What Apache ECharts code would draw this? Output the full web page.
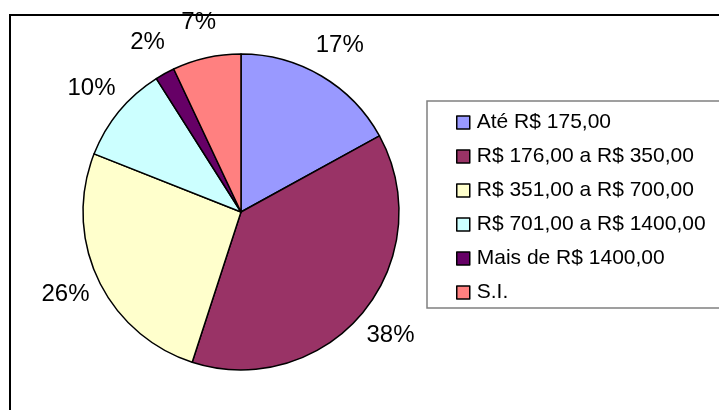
<!DOCTYPE html>
<html>
<head>
<meta charset="utf-8">
<script src="https://cdn.jsdelivr.net/npm/echarts@6/dist/echarts.min.js"></script>
<style>
  html, body { margin: 0; padding: 0; background: #fff; }
  #chart { width: 719px; height: 410px; }
</style>
</head>
<body>
<div id="chart"></div>
<script>
const categories = [
  "Até R$ 175,00",
  "R$ 176,00 a R$ 350,00",
  "R$ 351,00 a R$ 700,00",
  "R$ 701,00 a R$ 1400,00",
  "Mais de R$ 1400,00",
  "S.I."
];
const shares = [17, 38, 26, 10, 2, 7];
const colors = ["#9999ff", "#993366", "#ffffcc", "#ccffff", "#660066", "#ff8080"];

const center = [241, 212];
const radius = 158;
const labelRadius = 194;
const total = shares.reduce((a, b) => a + b, 0);

// angle (clockwise from 12 o'clock) at the middle of slice i
function midAngle(i) {
  let before = 0;
  for (let k = 0; k < i; k++) before += shares[k];
  return (before + shares[i] / 2) / total * 2 * Math.PI;
}

const chart = echarts.init(document.getElementById("chart"));

chart.setOption({
  backgroundColor: "#fff",
  animation: false,
  color: colors,
  textStyle: { fontFamily: "Liberation Sans, Arial, sans-serif" },
  graphic: [
    {
      type: "rect",
      shape: { x: 10, y: 15, width: 800, height: 500 },
      style: { fill: "none", stroke: "#000", lineWidth: 2 }
    },
    {
      type: "rect",
      shape: { x: 427, y: 101, width: 400, height: 207 },
      style: { fill: "#fff", stroke: "#808080", lineWidth: 1.5 },
      z: 0
    }
  ],
  legend: {
    orient: "vertical",
    left: 451,
    top: 107,
    itemWidth: 13,
    itemHeight: 13,
    itemGap: 13,
    icon: "rect",
    selectedMode: false,
    itemStyle: { borderColor: "#000", borderWidth: 1.5 },
    textStyle: {
      color: "#000",
      fontSize: 21,
      lineHeight: 21,
      fontFamily: "Liberation Sans, Arial, sans-serif",
      padding: [0, 0, 0, 2]
    },
    data: categories,
    z: 5
  },
  series: [
    {
      type: "pie",
      center: center,
      radius: radius,
      startAngle: 90,
      clockwise: true,
      avoidLabelOverlap: false,
      itemStyle: { borderColor: "#000", borderWidth: 1.5 },
      label: {
        show: true,
        position: "outside",
        color: "#000",
        fontSize: 24,
        fontFamily: "Liberation Sans, Arial, sans-serif",
        formatter: (p) => p.value + "%"
      },
      labelLine: { show: false },
      labelLayout: (params) => {
        const a = midAngle(params.dataIndex);
        return {
          x: center[0] + labelRadius * Math.sin(a),
          y: center[1] - labelRadius * Math.cos(a),
          align: "center",
          verticalAlign: "middle"
        };
      },
      emphasis: { disabled: true },
      data: categories.map((name, i) => ({ name: name, value: shares[i] }))
    }
  ]
});
</script>
</body>
</html>
